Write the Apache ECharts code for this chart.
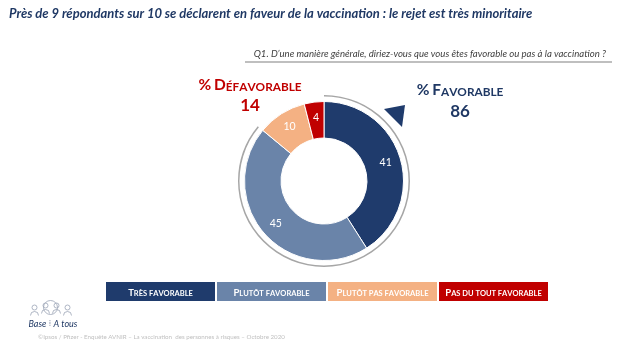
<!DOCTYPE html>
<html>
<head>
<meta charset="utf-8">
<script src="https://cdn.jsdelivr.net/npm/echarts@6/dist/echarts.min.js"></script>
<style>
html,body{margin:0;padding:0;background:#fff;}
#c{width:628px;height:354px;}
</style>
</head>
<body>
<div id="c"></div>
<script>
// ---- data ----
var categories = ['Très favorable', 'Plutôt favorable', 'Plutôt pas favorable', 'Pas du tout favorable'];
var values = [41, 45, 10, 4];
var colors = ['#1f3b6c', '#6a84a9', '#f4b183', '#c00000'];
var favorableIdx = [0, 1];
var defavorableIdx = [2, 3];
var titleText = 'Près de 9 répondants sur 10 se déclarent en faveur de la vaccination : le rejet est très minoritaire';
var questionText = 'Q1. D\u2019une manière générale, diriez-vous que vous êtes favorable ou pas à la vaccination ?';
var footerText = '©Ipsos / Pfizer - Enquête AVNIR \u2013 La vaccination  des personnes à risques \u2013 Octobre 2020';

var FONT = 'Lato';
var favTotal = favorableIdx.reduce(function(s,i){return s+values[i];},0);
var defTotal = defavorableIdx.reduce(function(s,i){return s+values[i];},0);

// small caps as rich text
function smallCaps(str) {
  var out = '';
  for (var i = 0; i < str.length; i++) {
    var ch = str[i];
    if (ch === ' ') { out += '{s| }'; continue; }
    var up = ch.toUpperCase();
    if (ch === up && ch.toLowerCase() !== ch) out += '{b|' + ch + '}';
    else if (ch.toLowerCase() === ch && ch.toUpperCase() !== ch) out += '{s|' + up + '}';
    else out += '{b|' + ch + '}';
  }
  return out;
}

var chart = echarts.init(document.getElementById('c'), null, {renderer: 'canvas'});
var cx = 324, cy = 181;

// legend boxes (drawn as graphic, from categories/colors)
var legLeft = 106, legTop = 282, legW = 109, legH = 19, legGap = 2;
var legendGraphics = categories.map(function(c, i) {
  return {
    type: 'group', left: legLeft + i * (legW + legGap), top: legTop,
    children: [
      {type: 'rect', shape: {x: 0, y: 0, width: legW, height: legH}, style: {fill: colors[i]}},
      {type: 'text', x: legW / 2, y: 4, style: {
        text: smallCaps(c), align: 'center', verticalAlign: 'top',
        rich: {
          b: {fontFamily: FONT, fontSize: 9.5, fontWeight: 'bold', fill: '#fff', lineHeight: 12, verticalAlign: 'bottom'},
          s: {fontFamily: FONT, fontSize: 7.5, fontWeight: 'bold', fill: '#fff', lineHeight: 12, verticalAlign: 'bottom'}
        }}}
    ]
  };
});

var option = {
  backgroundColor: '#fff',
  animation: false,
  title: [
    {text: titleText, left: 4, top: 2,
     textStyle: {fontFamily: FONT, fontSize: 13, fontWeight: 'bold', fontStyle: 'italic', color: '#1f3864'}},
    {text: questionText, right: 17, top: 44,
     textStyle: {fontFamily: FONT, fontSize: 9.6, fontStyle: 'italic', fontWeight: 'normal', color: '#404040'}},
    {text: smallCaps('% Défavorable'), left: 245, top: 72, textAlign: 'center',
     textStyle: {rich: {
       b: {fontFamily: FONT, fontSize: 15.5, fontWeight: 'bold', color: '#c00000', verticalAlign: 'bottom'},
       s: {fontFamily: FONT, fontSize: 11.8, fontWeight: 'bold', color: '#c00000', verticalAlign: 'bottom'}}}},
    {text: String(defTotal), left: 245, top: 92, textAlign: 'center',
     textStyle: {fontFamily: FONT, fontSize: 17, fontWeight: 'bold', color: '#c00000'}},
    {text: smallCaps('% Favorable'), left: 455, top: 77, textAlign: 'center',
     textStyle: {rich: {
       b: {fontFamily: FONT, fontSize: 15.5, fontWeight: 'bold', color: '#1f3864', verticalAlign: 'bottom'},
       s: {fontFamily: FONT, fontSize: 11.8, fontWeight: 'bold', color: '#1f3864', verticalAlign: 'bottom'}}}},
    {text: String(favTotal), left: 455, top: 98, textAlign: 'center',
     textStyle: {fontFamily: FONT, fontSize: 17, fontWeight: 'bold', color: '#1f3864'}}
  ],
  series: [
    {
      type: 'pie', name: 'main', center: [cx, cy], radius: [43, 79.5],
      startAngle: 90, clockwise: true, avoidLabelOverlap: false,
      itemStyle: {borderColor: '#fff', borderWidth: 1},
      label: {show: true, position: 'inside', formatter: '{c}', color: '#fff',
              fontFamily: FONT, fontSize: 10.5},
      labelLine: {show: false},
      emphasis: {disabled: true},
      data: categories.map(function(c, i) {
        return {name: c, value: values[i], itemStyle: {color: colors[i]}};
      })
    },
    {
      type: 'pie', name: 'ring', center: [cx, cy], radius: [84.5, 86],
      startAngle: 90, clockwise: true, silent: true,
      label: {show: false}, labelLine: {show: false},
      emphasis: {disabled: true},
      data: [
        {name: 'fav', value: favTotal, itemStyle: {color: '#a6a6a6'}},
        {name: 'def', value: defTotal, itemStyle: {color: 'rgba(0,0,0,0)'}}
      ]
    }
  ],
  graphic: [
    {type: 'line', shape: {x1: 245, y1: 62, x2: 612, y2: 62},
     style: {stroke: '#bfbfbf', lineWidth: 2}},
    {type: 'polygon', shape: {points: [[cx + 60, cy - 72], [cx + 81, cy - 76], [cx + 78, cy - 54]]},
     style: {fill: '#1f3b6c'}},
    // logo
    {type: 'group', left: 28, top: 298, children: [
      {type: 'circle', shape: {cx: 6, cy: 6, r: 2.5}, style: {fill: 'none', stroke: '#9aa3b5', lineWidth: 0.8}},
      {type: 'circle', shape: {cx: 17, cy: 4, r: 2.5}, style: {fill: 'none', stroke: '#9aa3b5', lineWidth: 0.8}},
      {type: 'circle', shape: {cx: 28, cy: 4, r: 2.5}, style: {fill: 'none', stroke: '#9aa3b5', lineWidth: 0.8}},
      {type: 'circle', shape: {cx: 39, cy: 6, r: 2.5}, style: {fill: 'none', stroke: '#9aa3b5', lineWidth: 0.8}},
      {type: 'circle', shape: {cx: 22, cy: 6, r: 7}, style: {fill: 'none', stroke: '#9aa3b5', lineWidth: 0.8}},
      {type: 'arc', shape: {cx: 6, cy: 14, r: 4, startAngle: Math.PI, endAngle: 2 * Math.PI}, style: {fill: 'none', stroke: '#9aa3b5', lineWidth: 0.8}},
      {type: 'arc', shape: {cx: 17, cy: 12, r: 4, startAngle: Math.PI, endAngle: 2 * Math.PI}, style: {fill: 'none', stroke: '#9aa3b5', lineWidth: 0.8}},
      {type: 'arc', shape: {cx: 28, cy: 12, r: 4, startAngle: Math.PI, endAngle: 2 * Math.PI}, style: {fill: 'none', stroke: '#9aa3b5', lineWidth: 0.8}},
      {type: 'arc', shape: {cx: 39, cy: 14, r: 4, startAngle: Math.PI, endAngle: 2 * Math.PI}, style: {fill: 'none', stroke: '#9aa3b5', lineWidth: 0.8}},
      {type: 'text', x: 0, y: 18, style: {text: 'Base', fontFamily: FONT, fontSize: 9, fontStyle: 'italic', fill: '#1f3864'}},
      {type: 'text', x: 20, y: 18, style: {text: '\u205E', fontFamily: 'DejaVu Sans', fontSize: 9, fill: '#9aa3b5'}},
      {type: 'text', x: 25, y: 18, style: {text: 'A tous', fontFamily: FONT, fontSize: 9, fontStyle: 'italic', fill: '#1f3864'}}
    ]},
    {type: 'text', left: 38, top: 334, style: {text: footerText, fontFamily: FONT, fontSize: 6.2, fill: '#bfbfbf'}}
  ].concat(legendGraphics)
};
chart.setOption(option);
</script>
</body>
</html>
